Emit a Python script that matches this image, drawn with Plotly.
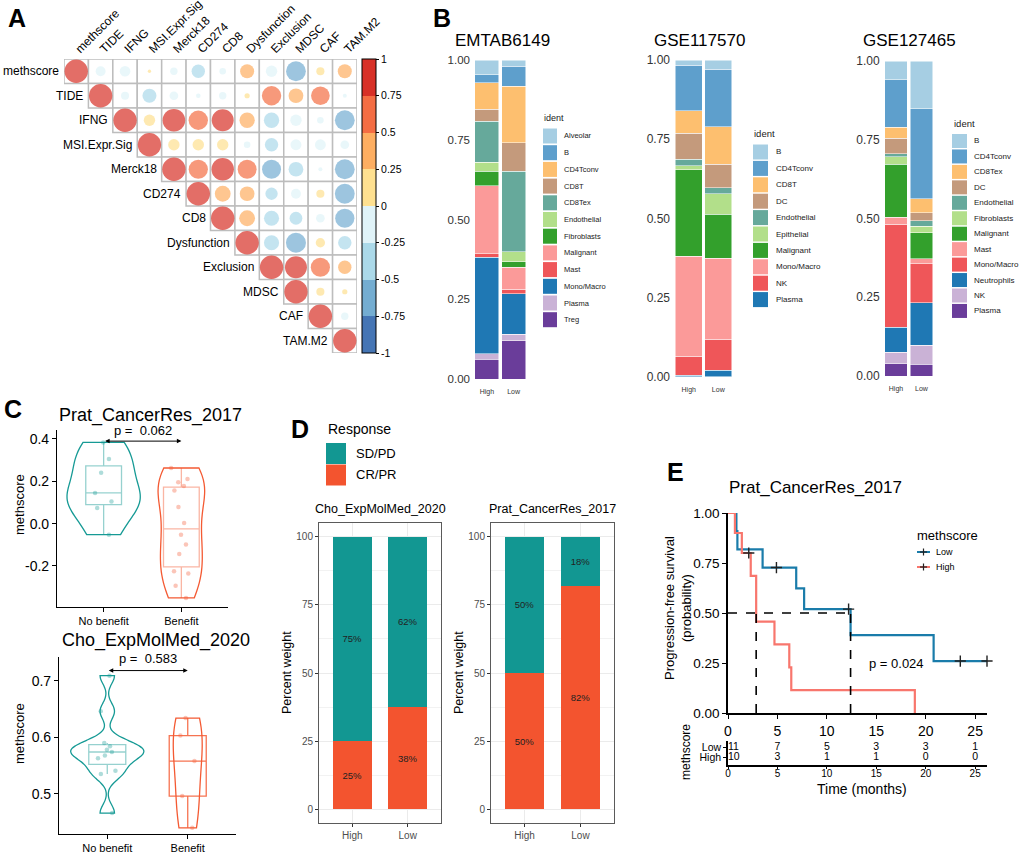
import numpy as np
import plotly.graph_objects as go

W, H = 1020, 854
FONT = "Liberation Sans, Arial, Helvetica, sans-serif"

# ---------------- Panel A data ----------------
corr_vars = ['methscore', 'TIDE', 'IFNG', 'MSI.Expr.Sig', 'Merck18', 'CD274', 'CD8',
             'Dysfunction', 'Exclusion', 'MDSC', 'CAF', 'TAM.M2']
# upper triangle, each row starting at the diagonal
corr_upper = [
    [1, -0.18, -0.21, 0.02, -0.10, -0.33, -0.08, 0.36, -0.24, -0.72, 0.12, 0.36],
    [1, -0.12, -0.36, -0.14, -0.04, -0.10, 0.05, 0.69, 0.40, 0.64, -0.03],
    [1, 0.24, 0.94, 0.69, 0.89, 0.43, -0.43, -0.24, -0.08, -0.72],
    [1, 0.24, 0.24, 0.24, -0.08, -0.33, -0.22, -0.22, -0.14],
    [1, 0.68, 0.93, 0.66, -0.66, -0.40, -0.03, -0.72],
    [1, 0.46, 0.40, -0.28, -0.18, 0.12, -0.72],
    [1, 0.46, -0.42, -0.30, -0.14, -0.68],
    [1, -0.42, -0.74, 0.16, -0.33],
    [1, 0.89, 0.68, 0.33],
    [1, 0.12, 0.05],
    [1, -0.10],
    [1],
]
corr_ticks = [-1, -0.75, -0.5, -0.25, 0, 0.25, 0.5, 0.75, 1]
corr_bins = ['#4575B4', '#74ADD1', '#ABD9E9', '#E0F3F8', '#FEE090', '#FDAE61', '#F46D43', '#D73027']

# ---------------- Panel B data ----------------
b_groups = ['High', 'Low']
emtab_types = ['Alveolar', 'B', 'CD4Tconv', 'CD8T', 'CD8Tex', 'Endothelial', 'Fibroblasts',
               'Malignant', 'Mast', 'Mono/Macro', 'Plasma', 'Treg']
emtab_high = [0.047, 0.024, 0.084, 0.037, 0.128, 0.029, 0.045, 0.214, 0.011, 0.302, 0.017, 0.062]
emtab_low = [0.019, 0.063, 0.177, 0.089, 0.253, 0.031, 0.018, 0.069, 0.013, 0.127, 0.021, 0.120]
gse117_types = ['B', 'CD4Tconv', 'CD8T', 'DC', 'Endothelial', 'Epithelial', 'Malignant',
                'Mono/Macro', 'NK', 'Plasma']
gse117_high = [0.016, 0.144, 0.072, 0.081, 0.021, 0.012, 0.273, 0.317, 0.059, 0.005]
gse117_low = [0.029, 0.181, 0.119, 0.074, 0.020, 0.064, 0.139, 0.255, 0.098, 0.021]
gse127_types = ['B', 'CD4Tconv', 'CD8Tex', 'DC', 'Endothelial', 'Fibroblasts', 'Malignant',
                'Mast', 'Mono/Macro', 'Neutrophils', 'NK', 'Plasma']
gse127_high = [0.060, 0.151, 0.035, 0.048, 0.010, 0.024, 0.168, 0.022, 0.327, 0.079, 0.037, 0.039]
gse127_low = [0.151, 0.287, 0.043, 0.026, 0.017, 0.021, 0.083, 0.016, 0.124, 0.135, 0.059, 0.038]
b_palette = ['#A6CEE3', '#5E9FCC', '#FDBF6F', '#C49A7C', '#66A99B', '#B2DF8A', '#33A02C',
             '#FB9A99', '#EF5659', '#1F78B4', '#CAB2D6', '#6A3D9A']
b_ticks = [0, 0.25, 0.5, 0.75, 1.0]

# ---------------- Panel C data ----------------
c_groups = ['No benefit', 'Benefit']
prat_nobenefit = [0.384, 0.306, 0.240, 0.145, 0.105, 0.074, -0.052]
prat_benefit = [0.263, 0.211, 0.195, 0.178, 0.156, 0.079, 0.003, -0.052, -0.099, -0.143,
                -0.225, -0.236, -0.293, -0.351]
cho_nobenefit = [0.709, 0.646, 0.590, 0.584, 0.578, 0.574, 0.568, 0.563, 0.541, 0.535, 0.466]
cho_benefit = [0.634, 0.603, 0.558, 0.496, 0.440]
prat_p = '0.062'
cho_p = '0.583'

# ---------------- Panel D data ----------------
d_groups = ['High', 'Low']
resp_levels = ['SD/PD', 'CR/PR']
cho_sdpd = [6, 5]
cho_crpr = [2, 3]
prat_sdpd = [5, 2]
prat_crpr = [5, 9]

# ---------------- Panel E data ----------------
km_low_time = [0.85, 0.95, 3.5, 4.9, 6.9, 7.7, 12.2, 12.4, 20.8, 23.5, 26.2]
km_low_event = [1, 1, 1, 0, 1, 1, 0, 1, 1, 0, 0]
km_high_time = [0.7, 1.4, 2.1, 2.3, 2.85, 2.85, 4.7, 6.2, 6.4, 18.9]
km_high_event = [1, 1, 0, 1, 1, 1, 1, 1, 1, 1]
km_groups = ['Low', 'High']
risk_times = [0, 5, 10, 15, 20, 25]
km_p = 'p = 0.024'

# ---------------- colours ----------------
TEAL = '#169A95'
ORANGE = '#F45A33'
D_TEAL = '#129792'
D_ORANGE = '#F3542F'
KM_BLUE = '#1A7CAA'
KM_RED = '#F8766D'


def dx(a, b):
    return [a / W, b / W]


def dy(top, bottom):
    return [1 - bottom / H, 1 - top / H]


fig = go.Figure()
annotations = []
shapes = []


def ann(text, x, y, size, xanchor='center', yanchor='middle', angle=0, color='black', bold=False):
    if bold:
        text = '<b>' + text + '</b>'
    annotations.append(dict(text=text, x=x / W, y=1 - y / H, xref='paper', yref='paper',
                            xanchor=xanchor, yanchor=yanchor, showarrow=False, textangle=angle,
                            font=dict(size=size, color=color, family=FONT)))


def rect(x0, y0, x1, y1, color):
    shapes.append(dict(type='rect', xref='paper', yref='paper', x0=x0 / W, x1=x1 / W,
                       y0=1 - y1 / H, y1=1 - y0 / H, fillcolor=color, line=dict(width=0)))


def seg(x0, y0, x1, y1, color, width):
    shapes.append(dict(type='line', xref='paper', yref='paper', x0=x0 / W, x1=x1 / W,
                       y0=1 - y0 / H, y1=1 - y1 / H, line=dict(color=color, width=width)))


# ================= Panel A =================
nv = len(corr_vars)
CELL = (357 - 64) / nv
cx, cy, cr = [], [], []
for i, row in enumerate(corr_upper):
    for k, r in enumerate(row):
        cx.append(i + k + 1)
        cy.append(i + 1)
        cr.append(r)
cr = np.array(cr)
fig.add_trace(go.Scatter(x=cx, y=cy, mode='markers', xaxis='x', yaxis='y',
                         marker=dict(symbol='square', size=CELL, color='white',
                                     line=dict(color='#BDBDBD', width=1.5)),
                         showlegend=False, hoverinfo='skip'))
cscale = []
for k, c in enumerate(corr_bins):
    cscale.append([k / len(corr_bins), c])
    cscale.append([(k + 1) / len(corr_bins), c])
fig.add_trace(go.Scatter(
    x=cx, y=cy, mode='markers', xaxis='x', yaxis='y', showlegend=False,
    marker=dict(symbol='circle', size=0.955 * CELL * np.sqrt(np.abs(cr)), color=cr,
                colorscale=cscale, cmin=-1, cmax=1, line=dict(width=0), showscale=True,
                colorbar=dict(x=362 / W, xanchor='left', xpad=0, y=1 - 206 / H, yanchor='middle',
                              ypad=0, len=294 / H, lenmode='fraction', thickness=14,
                              outlinewidth=1, outlinecolor='black', tickmode='array',
                              tickvals=corr_ticks, ticktext=[f'{t:g}' for t in corr_ticks],
                              ticks='outside', ticklen=3, tickcolor='black',
                              tickfont=dict(size=10.5, color='black', family=FONT)))))
for i, name in enumerate(corr_vars):
    annotations.append(dict(text=name, x=i + 0.5, y=i + 1, xref='x', yref='y', xanchor='right',
                            yanchor='middle', xshift=-3, showarrow=False,
                            font=dict(size=12, color='black', family=FONT)))

# ================= Panel B =================
b_specs = [
    (emtab_types, emtab_high, emtab_low, 'x2', 'y2'),
    (gse117_types, gse117_high, gse117_low, 'x3', 'y3'),
    (gse127_types, gse127_high, gse127_low, 'x4', 'y4'),
]
for types, hi, lo, xa, ya in b_specs:
    for k in reversed(range(len(types))):
        fig.add_trace(go.Bar(x=b_groups, y=[hi[k], lo[k]], xaxis=xa, yaxis=ya, width=0.9,
                             marker=dict(color=b_palette[k], line=dict(color='white', width=0.5)),
                             showlegend=False, name=types[k]))

b_titles = [('EMTAB6149', 453), ('GSE117570', 652), ('GSE127465', 861)]
for t, x in b_titles:
    ann(t, x, 40, 17, xanchor='left')
# legends: title_x, title_y, swatch_x, first_y, spacing, sw_w, sw_h, label_x, font
b_leg = [
    (emtab_types, 542, 118, 543, 136, 16.7, 14, 15, 562, 7.5, 9),
    (gse117_types, 752, 133, 753, 152, 16.4, 15, 15, 774, 8, 9.5),
    (gse127_types, 952, 124, 952, 141, 15.45, 15, 14, 972, 8, 9.5),
]
for types, tx, ty, sx, fy0, sp, sw, sh, lx, fs, ts in b_leg:
    ann('ident', tx, ty, ts, xanchor='left', color='#1a1a1a')
    for k, t in enumerate(types):
        yc = fy0 + k * sp
        rect(sx, yc - sh / 2, sx + sw, yc + sh / 2, b_palette[k])
        ann(t, lx, yc, fs, xanchor='left', color='#1a1a1a')


# ================= Panel C =================
def nrd0(v):
    s = np.std(v, ddof=1)
    q = np.percentile(v, [25, 75])
    lo = min(s, (q[1] - q[0]) / 1.34)
    if lo <= 0:
        lo = s if s > 0 else 1.0
    return 0.9 * lo * len(v) ** -0.2


def rgba(hexc, a):
    h = hexc.lstrip('#')
    return f'rgba({int(h[0:2], 16)},{int(h[2:4], 16)},{int(h[4:6], 16)},{a})'


def add_violin(vals, cat, color, vwidth, xa, ya, box_alpha, jitter):
    v = np.array(vals, dtype=float)
    fig.add_trace(go.Violin(x=[cat] * len(v), y=v, xaxis=xa, yaxis=ya,
                            line=dict(color=color, width=1.3), fillcolor='rgba(255,255,255,0)',
                            points='all', pointpos=0, jitter=jitter,
                            marker=dict(color=rgba(color, 0.35), size=4.5, line=dict(width=0)),
                            spanmode='hard', bandwidth=nrd0(v), width=vwidth,
                            box_visible=False, meanline_visible=False, showlegend=False))
    q1, med, q3 = np.percentile(v, [25, 50, 75])
    iqr = q3 - q1
    lf = v[v >= q1 - 1.5 * iqr].min()
    uf = v[v <= q3 + 1.5 * iqr].max()
    fig.add_trace(go.Box(x=[cat], q1=[q1], median=[med], q3=[q3], lowerfence=[lf], upperfence=[uf],
                         xaxis=xa, yaxis=ya, width=0.46, whiskerwidth=0, boxpoints=False,
                         line=dict(color=rgba(color, box_alpha), width=1.3),
                         fillcolor='rgba(255,255,255,0)', showlegend=False))


add_violin(prat_nobenefit, c_groups[0], TEAL, 0.94, 'x5', 'y5', 0.45, 0.3)
add_violin(prat_benefit, c_groups[1], ORANGE, 0.60, 'x5', 'y5', 0.45, 0.45)
add_violin(cho_nobenefit, c_groups[0], TEAL, 0.91, 'x6', 'y6', 0.45, 0.3)
add_violin(cho_benefit, c_groups[1], ORANGE, 0.36, 'x6', 'y6', 0.85, 0.6)

ann('Prat_CancerRes_2017', 57, 415, 18, xanchor='left')
ann('Cho_ExpMolMed_2020', 60, 640, 18, xanchor='left')
ann('methscore', 19, 505, 13, angle=-90)
ann('methscore', 19, 734, 13, angle=-90)
for xa, ya, ybr, ytx, p in [('x5', 'y5', 0.39, 0.4425, prat_p), ('x6', 'y6', 0.718, 0.739, cho_p)]:
    annotations.append(dict(x=1, y=ybr, ax=0, ay=ybr, xref=xa, yref=ya, axref=xa, ayref=ya,
                            text='', showarrow=True, arrowhead=2, arrowside='end+start',
                            arrowsize=0.9, arrowwidth=1, arrowcolor='black',
                            standoff=0, startstandoff=0))
    annotations.append(dict(x=0.5, y=ytx, xref=xa, yref=ya, text='p =\u00a0 ' + p,
                            showarrow=False, xanchor='center', yanchor='middle',
                            font=dict(size=13, color='black', family=FONT)))

# ================= Panel D =================
for sd, crr, xa, ya in [(cho_sdpd, cho_crpr, 'x7', 'y7'), (prat_sdpd, prat_crpr, 'x8', 'y8')]:
    tot = np.array(sd) + np.array(crr)
    p_cr = 100 * np.array(crr) / tot
    p_sd = 100 * np.array(sd) / tot
    for vals, col, nm in [(p_cr, D_ORANGE, resp_levels[1]), (p_sd, D_TEAL, resp_levels[0])]:
        fig.add_trace(go.Bar(x=d_groups, y=vals, xaxis=xa, yaxis=ya, width=0.7, name=nm,
                             marker=dict(color=col, line=dict(width=0)),
                             text=[f'{round(v)}%' for v in vals], textposition='inside',
                             insidetextanchor='middle', textangle=0,
                             textfont=dict(size=9.5, color='#222222', family=FONT),
                             showlegend=False))
ann('D', 300, 429, 25, bold=True)
ann('Response', 326, 429, 14, xanchor='left')
for k, (lvl, col) in enumerate([(resp_levels[0], D_TEAL), (resp_levels[1], D_ORANGE)]):
    y0 = 443 + k * 21.5
    rect(326, y0, 346, y0 + 21, col)
    ann(lvl, 354, y0 + 10.5, 13, xanchor='left')
ann('Cho_ExpMolMed_2020', 380, 509, 12.5)
ann('Prat_CancerRes_2017', 552.5, 509, 12.5)
ann('Percent weight', 287, 673, 12.5, angle=-90)
ann('Percent weight', 459, 673, 12.5, angle=-90)


# ================= Panel E =================
def km(times, events):
    t = np.array(times, dtype=float)
    e = np.array(events)
    xs, ys, s = [0.0], [1.0], 1.0
    for ut in np.unique(t[e == 1]):
        nr = np.sum(t >= ut)
        d = np.sum((t == ut) & (e == 1))
        s *= 1 - d / nr
        xs.append(ut)
        ys.append(s)
    if t.max() > xs[-1]:
        xs.append(t.max())
        ys.append(s)
    return np.array(xs), np.array(ys)


def surv_at(xs, ys, tt):
    idx = np.searchsorted(xs, tt, side='right') - 1
    return ys[idx]


medians = []
for times, events, col in [(km_low_time, km_low_event, KM_BLUE), (km_high_time, km_high_event, KM_RED)]:
    xs, ys = km(times, events)
    fig.add_trace(go.Scatter(x=xs, y=ys, mode='lines', line=dict(color=col, width=2.2, shape='hv'),
                             xaxis='x9', yaxis='y9', showlegend=False, cliponaxis=False))
    ct = np.array(times)[np.array(events) == 0]
    fig.add_trace(go.Scatter(x=ct, y=surv_at(xs, ys, ct), mode='markers', xaxis='x9', yaxis='y9',
                             marker=dict(symbol='cross-thin', size=8,
                                         line=dict(width=1.4, color='#222222')),
                             showlegend=False, cliponaxis=False))
    medians.append(xs[np.argmax(ys <= 0.5)])
fig.add_trace(go.Scatter(x=[0, max(medians)], y=[0.5, 0.5], mode='lines', xaxis='x9', yaxis='y9',
                         line=dict(color='black', width=1.6, dash='dash'), showlegend=False))
for m in medians:
    fig.add_trace(go.Scatter(x=[m, m], y=[0, 0.5], mode='lines', xaxis='x9', yaxis='y9',
                             line=dict(color='black', width=1.6, dash='dash'), showlegend=False))

# risk table
for gi, (times, lvl) in enumerate([(km_low_time, km_groups[0]), (km_high_time, km_groups[1])]):
    t = np.array(times)
    counts = [int(np.sum(t >= rt)) for rt in risk_times]
    fig.add_trace(go.Scatter(x=risk_times, y=[1 - gi] * len(risk_times), mode='text',
                             text=[str(c) for c in counts],
                             textposition=['middle right' if rt == 0 else 'middle center' for rt in risk_times],
                             textfont=dict(size=10.5, color='black', family=FONT),
                             xaxis='x10', yaxis='y10', showlegend=False, cliponaxis=False))

ann('E', 675, 472, 25, bold=True)
ann('Prat_CancerRes_2017', 727, 487, 17, xanchor='left')
ann('Progression-free survival<br>(probability)', 678, 608, 13, angle=-90)
ann('methscore', 915, 535, 13, xanchor='left')
for k, (lvl, col) in enumerate([(km_groups[0], KM_BLUE), (km_groups[1], KM_RED)]):
    yc = 552 + k * 15
    seg(917, yc, 930, yc, col, 2)
    seg(920, yc, 927, yc, '#222222', 1.2)
    seg(923.5, yc - 3.5, 923.5, yc + 3.5, '#222222', 1.2)
    ann(lvl, 934, yc, 9, xanchor='left')
annotations.append(dict(x=14.1, y=0.25, xref='x9', yref='y9', text=km_p, showarrow=False,
                        xanchor='left', yanchor='middle',
                        font=dict(size=13, color='black', family=FONT)))
ann('methscore', 686, 752, 12, angle=-90)
ann('Time (months)', 862, 789, 14)

# panel letters
ann('A', 17, 18, 25, bold=True)
ann('B', 442, 18, 25, bold=True)
ann('C', 13, 409, 25, bold=True)

# ================= Layout / axes =================
lay = dict(width=W, height=H, autosize=False,
           margin=dict(l=0, r=0, t=0, b=0, pad=0, autoexpand=False), paper_bgcolor='white',
           plot_bgcolor='rgba(0,0,0,0)', barmode='stack', violinmode='overlay', boxmode='overlay',
           font=dict(family=FONT, color='black'), showlegend=False,
           annotations=annotations, shapes=shapes)

lay['xaxis'] = dict(domain=dx(64, 357), range=[0.5, nv + 0.5], side='top', tickmode='array',
                    tickvals=list(range(1, nv + 1)), ticktext=corr_vars, tickangle=-45, ticks='',
                    showgrid=False, zeroline=False, showline=False,
                    tickfont=dict(size=12, color='black'), anchor='y')
lay['yaxis'] = dict(domain=dy(59, 353), range=[nv + 0.5, 0.5], showticklabels=False,
                    showgrid=False, zeroline=False, showline=False, anchor='x')

b_dom = [((471, 529.5), (60, 379), 11.5), ((671, 736), (60, 376.7), 12), ((880.7, 936.8), (61, 376), 12)]
for k, ((xa, xb), (yt, yb), fs) in enumerate(b_dom):
    n = k + 2
    lay[f'xaxis{n}'] = dict(domain=dx(xa, xb), type='category', categoryorder='array',
                            categoryarray=b_groups, range=[-0.6, 1.6], ticks='', showgrid=False,
                            zeroline=False, showline=False, tickfont=dict(size=7, color='#333333'),
                            ticklabelstandoff=7, anchor=f'y{n}')
    lay[f'yaxis{n}'] = dict(domain=dy(yt, yb), range=[0, 1], tickmode='array', tickvals=b_ticks,
                            ticktext=[f'{t:.2f}' for t in b_ticks], ticks='', showgrid=False,
                            zeroline=False, showline=False, tickfont=dict(size=fs, color='#333333'),
                            anchor=f'x{n}')

c_dom = [((57, 228), (430, 607), [-0.394, 0.4425], [-0.2, 0.0, 0.2, 0.4]),
         ((59, 236), (657, 834), [0.429, 0.742], [0.5, 0.6, 0.7])]
for k, ((xa, xb), (yt, yb), yr, tv) in enumerate(c_dom):
    n = k + 5
    lay[f'xaxis{n}'] = dict(domain=dx(xa, xb), type='category', categoryorder='array',
                            categoryarray=c_groups, range=[-0.6, 1.6], showline=True,
                            linecolor='black', linewidth=1.2, ticks='outside', ticklen=4,
                            tickcolor='black', showgrid=False, zeroline=False,
                            tickfont=dict(size=11, color='black'), anchor=f'y{n}')
    lay[f'yaxis{n}'] = dict(domain=dy(yt, yb), range=yr, tickmode='array', tickvals=tv,
                            ticktext=[f'{t:.1f}' for t in tv], showline=True, linecolor='black',
                            linewidth=1.2, ticks='outside', ticklen=4, tickcolor='black',
                            showgrid=False, zeroline=False, tickfont=dict(size=14, color='black'),
                            anchor=f'x{n}')

d_ticks = [0, 25, 50, 75, 100]
d_minor = [12.5, 37.5, 62.5, 87.5]
for k, (xa, xb) in enumerate([(319, 441), (491, 614)]):
    n = k + 7
    lay[f'xaxis{n}'] = dict(domain=dx(xa, xb), type='category', categoryorder='array',
                            categoryarray=d_groups, range=[-0.6, 1.6], showline=True, mirror=True,
                            linecolor='#5A5A5A', linewidth=1, showgrid=True, gridcolor='#EBEBEB',
                            ticks='outside', ticklen=3, tickcolor='#333333', zeroline=False,
                            tickfont=dict(size=10, color='#4D4D4D'), anchor=f'y{n}')
    lay[f'yaxis{n}'] = dict(domain=dy(523, 823), range=[-5, 105], tickmode='array',
                            tickvals=d_ticks, showline=True, mirror=True, linecolor='#5A5A5A',
                            linewidth=1, showgrid=True, gridcolor='#EBEBEB', zeroline=False,
                            minor=dict(tickmode='array', tickvals=d_minor, showgrid=True,
                                       gridcolor='#F2F2F2', gridwidth=0.6, ticks=''),
                            ticks='outside', ticklen=3, tickcolor='#333333',
                            tickfont=dict(size=10, color='#4D4D4D'), anchor=f'x{n}')

lay['xaxis9'] = dict(domain=dx(728, 987), range=[0, 26.2], tickmode='array', tickvals=risk_times,
                     showline=True, linecolor='black', linewidth=1.6, ticks='outside', ticklen=4,
                     tickwidth=1.4, tickcolor='black', showgrid=False, zeroline=False,
                     tickfont=dict(size=14, color='black'), anchor='y9')
lay['yaxis9'] = dict(domain=dy(513, 713), range=[0, 1], tickmode='array',
                     tickvals=[0, 0.25, 0.5, 0.75, 1], ticktext=['0.00', '0.25', '0.50', '0.75', '1.00'],
                     showline=True, linecolor='black', linewidth=1.6, ticks='outside', ticklen=4,
                     tickwidth=1.4, tickcolor='black', showgrid=False, zeroline=False,
                     tickfont=dict(size=13.5, color='black'), anchor='x9')
lay['xaxis10'] = dict(domain=dx(728, 987), range=[0, 26.2], tickmode='array', tickvals=risk_times,
                      showline=True, linecolor='black', linewidth=1.6, ticks='outside', ticklen=2,
                      tickcolor='black', showgrid=False, zeroline=False, ticklabelstandoff=-4,
                      tickfont=dict(size=10, color='black'), anchor='y10')
lay['yaxis10'] = dict(domain=dy(741, 765), range=[-0.8, 1.6], tickmode='array', tickvals=[1, 0],
                      ticktext=km_groups, showline=True, linecolor='black', linewidth=1.6,
                      ticks='outside', ticklen=3, tickcolor='black', showgrid=False,
                      zeroline=False, tickfont=dict(size=10.5, color='black'), anchor='x10')

fig.update_layout(**lay)
fig.write_html('out.html', config={'displayModeBar': False},
               post_script="document.body.style.margin='0px';document.body.style.overflow='hidden';")
